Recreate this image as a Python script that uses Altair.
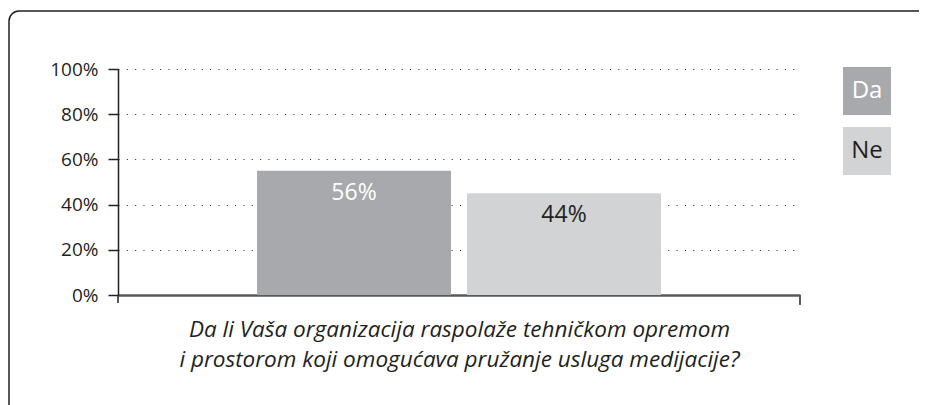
import altair as alt
import pandas as pd

# ---- data ----
series = ["Da", "Ne"]
share = [0.55, 0.45]            # bar heights as drawn
value_labels = ["56%", "44%"]   # printed labels
bar_colors = ["#a7a9ac", "#d1d3d4"]
label_colors = ["#ffffff", "#231f20"]
y_ticks = [0, 0.2, 0.4, 0.6, 0.8, 1.0]
question = [
    "Da li Vaša organizacija raspolaže tehničkom opremom",
    "i prostorom koji omogućava pružanje usluga medijacije?",
]

FONT = "Open Sans"
INK = "#231f20"
W, H = 682, 226

df = pd.DataFrame({
    "series": series,
    "share": share,
    "label": value_labels,
    "label_color": label_colors,
})
one = pd.DataFrame({"k": [0]})

color_scale = alt.Scale(domain=series, range=bar_colors)

frame = alt.Chart(one).mark_rect(
    fill=None, fillOpacity=0, stroke=INK, strokeWidth=1.5, cornerRadius=10
).encode(
    x=alt.value(-109), x2=alt.value(1200), y=alt.value(-58), y2=alt.value(1200)
)

bars = alt.Chart(df).mark_bar().encode(
    x=alt.X(
        "series:N",
        sort=series,
        scale=alt.Scale(paddingInner=0.0762, paddingOuter=0.662),
        axis=alt.Axis(
            labels=False, ticks=False, grid=False,
            domainColor="#58595b", domainWidth=2.5,
            title=question, titleFont=FONT, titleFontSize=22.5,
            titleFontStyle="italic", titleFontWeight="normal",
            titleColor=INK, titlePadding=23, titleLineHeight=30,
        ),
    ),
    y=alt.Y(
        "share:Q",
        scale=alt.Scale(domain=[0, 1], nice=False),
        axis=alt.Axis(
            values=y_ticks, format=".0%", title=None,
            grid=True, gridDash=[1, 7.33], gridColor=INK, gridWidth=1,
            domainColor=INK, domainWidth=1.5,
            tickColor=INK, tickSize=10, tickWidth=1.5,
            labelFont=FONT, labelFontSize=19, labelColor=INK, labelPadding=10,
        ),
    ),
    color=alt.Color(
        "series:N",
        scale=color_scale,
        legend=alt.Legend(
            title=None, orient="none", legendX=725, legendY=-2, padding=0,
            symbolType="square", symbolSize=2304, symbolStrokeWidth=0,
            symbolOpacity=1, rowPadding=12,
            labelFont=FONT, labelFontSize=24, labelAlign="center",
            labelOffset={"expr": "-24"},
            labelColor={"expr": "datum.label === 'Da' ? '#ffffff' : '#231f20'"},
        ),
    ),
)

texts = alt.Chart(df).mark_text(
    dy=22, fontSize=23, font=FONT, baseline="middle", align="center"
).encode(
    x=alt.X("series:N", sort=series),
    y="share:Q",
    text="label:N",
    color=alt.Color("label_color:N", scale=None),
)

y_ext = alt.Chart(one).mark_rule(color=INK, strokeWidth=1.5).encode(
    x=alt.value(0), y=alt.value(H), y2=alt.value(H + 8)
)
x_end = alt.Chart(one).mark_rule(color="#58595b", strokeWidth=2).encode(
    x=alt.value(W), y=alt.value(H), y2=alt.value(H + 10)
)

chart = alt.layer(frame, bars, texts, y_ext, x_end).properties(
    width=W, height=H,
    padding={"left": 110, "top": 61, "right": 119, "bottom": 110},
    autosize=alt.AutoSizeParams(type="none"),
).configure_view(stroke=None)

chart.save("out.html", embed_options={"renderer": "svg", "actions": False})
